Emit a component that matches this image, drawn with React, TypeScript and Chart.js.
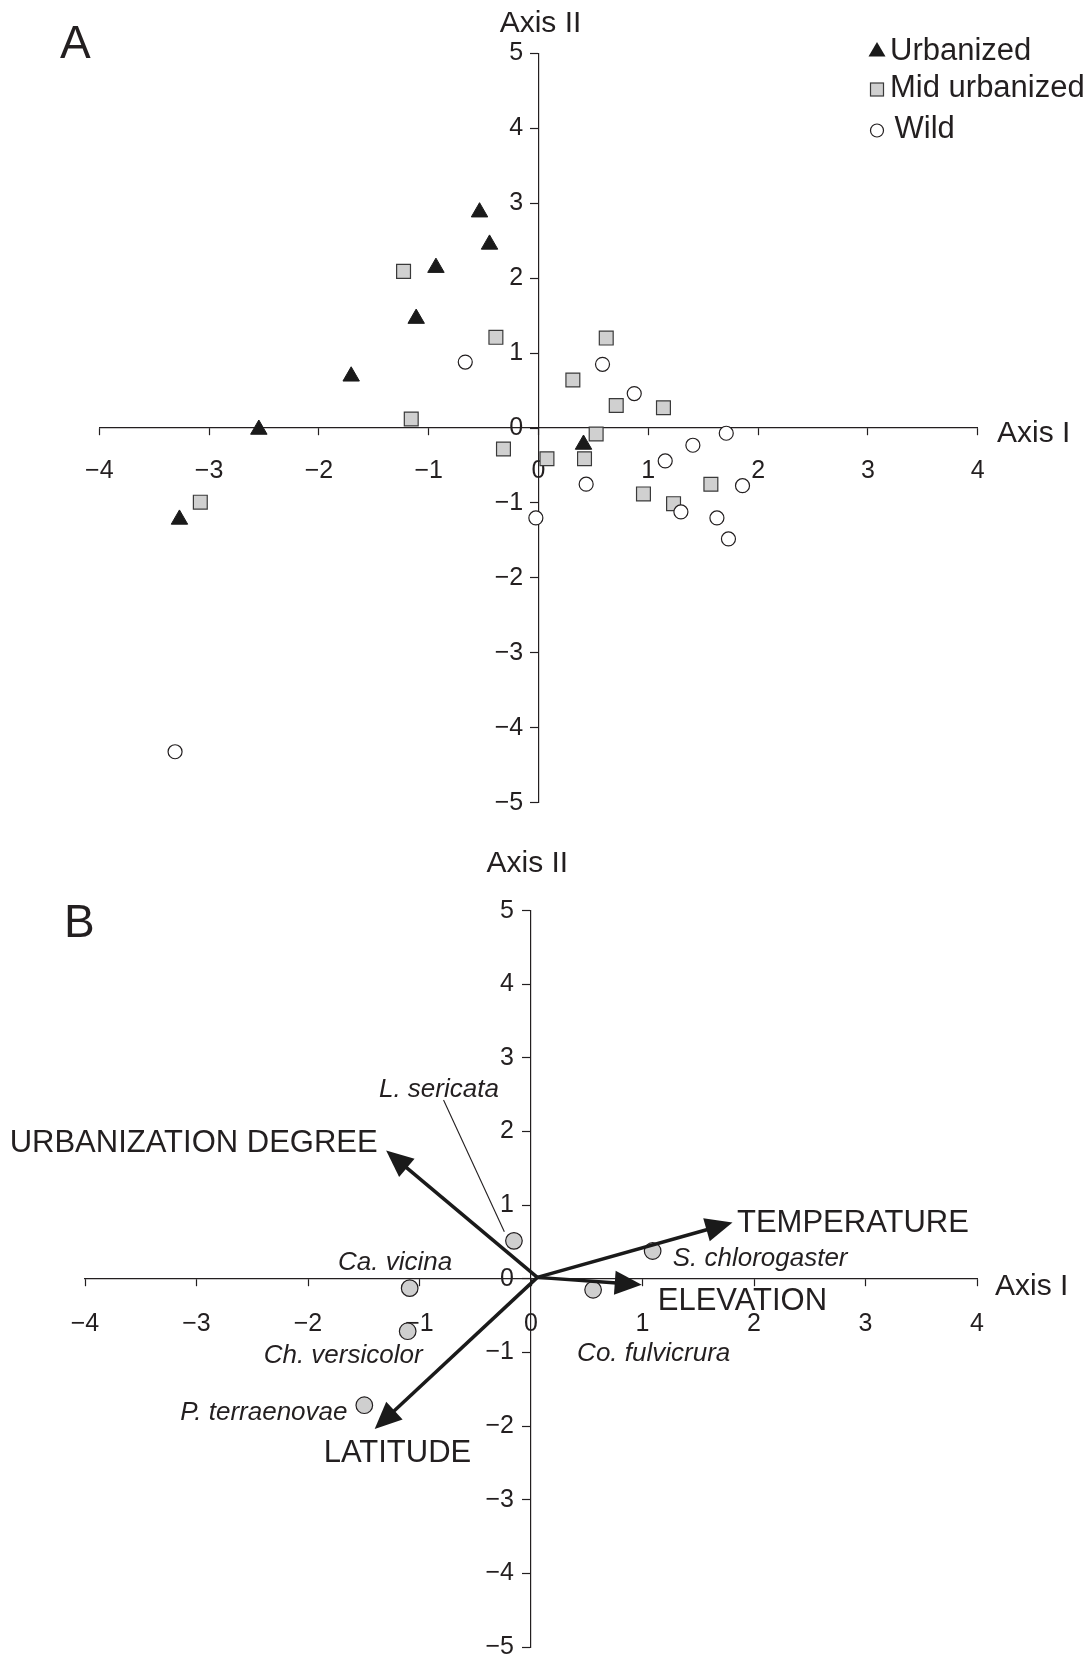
import React, { useEffect, useRef } from 'react';
import { Chart, registerables } from 'chart.js';

Chart.register(...registerables);

const FONT = '"Liberation Sans", Arial, Helvetica, sans-serif';
const INK = '#231f20';

// ---------- Tick labels ----------
const X_TICKS = [-4, -3, -2, -1, 0, 1, 2, 3, 4];
const X_TICK_LABELS = ['\u22124', '\u22123', '\u22122', '\u22121', '0', '1', '2', '3', '4'];
const Y_TICKS = [-5, -4, -3, -2, -1, 0, 1, 2, 3, 4, 5];
const Y_TICK_LABELS = ['\u22125', '\u22124', '\u22123', '\u22122', '\u22121', '0', '1', '2', '3', '4', '5'];

// ---------- Panel A data ----------
const SERIES_NAMES = ['Urbanized', 'Mid urbanized', 'Wild'];
const URBANIZED_X = [-0.537, -0.446, -0.934, -1.114, -1.706, -2.547, -3.27, 0.41];
const URBANIZED_Y = [2.88, 2.45, 2.14, 1.46, 0.69, -0.02, -1.22, -0.22];
const MID_X = [-1.229, -0.388, -1.159, -3.08, -0.319, 0.077, 0.617, 0.313, 0.708, 1.138, 0.525, 0.419, 0.956, 1.23, 1.57];
const MID_Y = [2.09, 1.21, 0.12, -0.99, -0.28, -0.41, 1.2, 0.64, 0.3, 0.27, -0.08, -0.41, -0.88, -1.01, -0.75];
const WILD_X = [-0.667, -0.024, -3.31, 0.583, 0.872, 1.71, 1.406, 1.154, 0.434, 1.858, 1.297, 1.625, 1.73];
const WILD_Y = [0.88, -1.2, -4.32, 0.85, 0.46, -0.07, -0.23, -0.44, -0.75, -0.77, -1.12, -1.2, -1.48];

// ---------- Panel B data ----------
const SPECIES = ['L. sericata', 'Ca. vicina', 'Ch. versicolor', 'P. terraenovae', 'S. chlorogaster', 'Co. fulvicrura'];
const SPECIES_X = [-0.153, -1.088, -1.106, -1.495, 1.091, 0.557];
const SPECIES_Y = [0.516, -0.126, -0.711, -1.716, 0.378, -0.149];
const VECTORS = ['URBANIZATION DEGREE', 'TEMPERATURE', 'ELEVATION', 'LATITUDE'];
const VECTOR_X = [-1.299, 1.807, 0.993, -1.402];
const VECTOR_Y = [1.743, 0.766, -0.08, -2.04];
const VECTOR_ORIGIN_X = 0.057;
const VECTOR_ORIGIN_Y = 0.02;

// ---------- Layout (pixels) ----------
const W = 1091;
const A_HEIGHT = 830;
const B_HEIGHT = 835;
const SPECIES_LABEL_OFFSET = [[-135, -144], [-71.7, -18.3], [-144, 31.7], [-184, 15.3], [20, 15.3], [-16, 71.6]];
const VECTOR_LABEL_OFFSET = [[-8.5, 1.3, 'right'], [4.5, 9.3, 'left'], [16, 25.7, 'left'], [-51, 33.3, 'left']];
const LEADER = { index: 0, from: [-70.4, -140.8], to: [-9.6, -9.2] };

const toPts = (xs: number[], ys: number[]) => xs.map((x, i) => ({ x, y: ys[i] }));

function drawText(ctx: CanvasRenderingContext2D, s: string, x: number, y: number, size: number, align: CanvasTextAlign = 'left', italic = false) {
  ctx.save();
  ctx.font = `${italic ? 'italic ' : ''}${size}px ${FONT}`;
  ctx.fillStyle = INK;
  ctx.textAlign = align;
  ctx.textBaseline = 'alphabetic';
  ctx.fillText(s, x, y);
  ctx.restore();
}

function makeScales(xPad: number) {
  return {
    x: {
      type: 'linear',
      min: -4,
      max: 4,
      position: { y: 0 },
      afterBuildTicks: (axis: any) => { axis.ticks = X_TICKS.map((v) => ({ value: v })); },
      ticks: {
        autoSkip: false,
        maxRotation: 0,
        padding: xPad,
        color: INK,
        font: { family: FONT, size: 25 },
        callback: (v: any) => X_TICK_LABELS[X_TICKS.indexOf(Number(v))],
      },
      grid: { drawOnChartArea: false, drawTicks: true, tickLength: 7, tickColor: INK, tickWidth: 1.2 },
      border: { display: true, color: INK, width: 1.2 },
    },
    y: {
      type: 'linear',
      min: -5,
      max: 5,
      position: { x: 0 },
      afterBuildTicks: (axis: any) => { axis.ticks = Y_TICKS.map((v) => ({ value: v })); },
      ticks: {
        autoSkip: false,
        color: INK,
        font: { family: FONT, size: 25 },
        callback: (v: any) => Y_TICK_LABELS[Y_TICKS.indexOf(Number(v))],
      },
      grid: { drawOnChartArea: false, drawTicks: true, tickLength: 8, tickColor: INK, tickWidth: 1.2 },
      border: { display: true, color: INK, width: 1.2 },
    },
  };
}

// Chart.js puts the labels of an axis positioned at {x: 0} right on the axis line;
// move them left of the tick marks as in the reference.
function yLabelShift(shift: number) {
  return {
    id: 'yLabelShift',
    beforeDraw(chart: any) {
      const scale = chart.scales.y;
      const items = scale.getLabelItems(chart.chartArea);
      if ((items as any).__shifted) return;
      items.forEach((it: any) => { it.options.translation[0] -= shift; });
      (items as any).__shifted = true;
    },
  };
}

const panelAPlugin = {
  id: 'panelA',
  afterDraw(chart: any) {
    const ctx = chart.ctx as CanvasRenderingContext2D;
    const { chartArea, scales } = chart;
    const x0 = scales.x.getPixelForValue(0);
    const y0 = scales.y.getPixelForValue(0);
    drawText(ctx, 'A', 60, 58, 46);
    drawText(ctx, 'Axis II', x0 + 2, chartArea.top - 21.6, 30, 'center');
    drawText(ctx, 'Axis I', chartArea.right + 19.3, y0 + 13.7, 30);
    // legend
    ctx.save();
    ctx.lineWidth = 1.2;
    ctx.strokeStyle = INK;
    ctx.fillStyle = '#1a1a1a';
    ctx.beginPath();
    ctx.moveTo(877, 42);
    ctx.lineTo(885.5, 56.5);
    ctx.lineTo(868.5, 56.5);
    ctx.closePath();
    ctx.fill();
    ctx.fillStyle = '#d0d0d0';
    ctx.strokeStyle = '#3a3a3a';
    ctx.fillRect(870.5, 83, 13, 13);
    ctx.strokeRect(870.5, 83, 13, 13);
    ctx.fillStyle = '#ffffff';
    ctx.strokeStyle = INK;
    ctx.beginPath();
    ctx.arc(877, 130.5, 6.5, 0, Math.PI * 2);
    ctx.fill();
    ctx.stroke();
    ctx.restore();
    drawText(ctx, SERIES_NAMES[0], 890, 60, 31);
    drawText(ctx, SERIES_NAMES[1], 890, 97, 31);
    drawText(ctx, SERIES_NAMES[2], 894.5, 138, 31);
  },
};

function arrow(ctx: CanvasRenderingContext2D, x1: number, y1: number, x2: number, y2: number) {
  const dx = x2 - x1;
  const dy = y2 - y1;
  const len = Math.hypot(dx, dy);
  const ux = dx / len;
  const uy = dy / len;
  const headL = 27;
  const headW = 12;
  const bx = x2 - ux * headL;
  const by = y2 - uy * headL;
  ctx.save();
  ctx.strokeStyle = '#1a1a1a';
  ctx.fillStyle = '#1a1a1a';
  ctx.lineWidth = 3.5;
  ctx.lineCap = 'butt';
  ctx.beginPath();
  ctx.moveTo(x1, y1);
  ctx.lineTo(bx + ux * 2, by + uy * 2);
  ctx.stroke();
  ctx.beginPath();
  ctx.moveTo(x2, y2);
  ctx.lineTo(bx - uy * headW, by + ux * headW);
  ctx.lineTo(bx + uy * headW, by - ux * headW);
  ctx.closePath();
  ctx.fill();
  ctx.restore();
}

const panelBPlugin = {
  id: 'panelB',
  afterDatasetsDraw(chart: any) {
    const ctx = chart.ctx as CanvasRenderingContext2D;
    const { x, y } = chart.scales;
    const ox = x.getPixelForValue(VECTOR_ORIGIN_X);
    const oy = y.getPixelForValue(VECTOR_ORIGIN_Y);
    VECTORS.forEach((_, i) => {
      arrow(ctx, ox, oy, x.getPixelForValue(VECTOR_X[i]), y.getPixelForValue(VECTOR_Y[i]));
    });
    const px = x.getPixelForValue(SPECIES_X[LEADER.index]);
    const py = y.getPixelForValue(SPECIES_Y[LEADER.index]);
    ctx.save();
    ctx.strokeStyle = INK;
    ctx.lineWidth = 1.1;
    ctx.beginPath();
    ctx.moveTo(px + LEADER.from[0], py + LEADER.from[1]);
    ctx.lineTo(px + LEADER.to[0], py + LEADER.to[1]);
    ctx.stroke();
    ctx.restore();
  },
  afterDraw(chart: any) {
    const ctx = chart.ctx as CanvasRenderingContext2D;
    const { chartArea, scales } = chart;
    const { x, y } = scales;
    const x0 = x.getPixelForValue(0);
    const y0 = y.getPixelForValue(0);
    drawText(ctx, 'B', 64, 107, 46);
    drawText(ctx, 'Axis II', x0 - 3.7, chartArea.top - 38.7, 30, 'center');
    drawText(ctx, 'Axis I', chartArea.right + 18, y0 + 16.3, 30);
    SPECIES.forEach((s, i) => {
      const px = x.getPixelForValue(SPECIES_X[i]);
      const py = y.getPixelForValue(SPECIES_Y[i]);
      drawText(ctx, s, px + SPECIES_LABEL_OFFSET[i][0], py + SPECIES_LABEL_OFFSET[i][1], 26, 'left', true);
    });
    VECTORS.forEach((s, i) => {
      const px = x.getPixelForValue(VECTOR_X[i]);
      const py = y.getPixelForValue(VECTOR_Y[i]);
      const o = VECTOR_LABEL_OFFSET[i];
      drawText(ctx, s, px + (o[0] as number), py + (o[1] as number), 31, o[2] as CanvasTextAlign);
    });
  },
};

function configA(): any {
  return {
    type: 'scatter',
    data: {
      datasets: [
        {
          label: SERIES_NAMES[2],
          data: toPts(WILD_X, WILD_Y),
          pointStyle: 'circle',
          pointRadius: 7,
          backgroundColor: '#ffffff',
          borderColor: INK,
          borderWidth: 1.2,
          order: 1,
        },
        {
          label: SERIES_NAMES[1],
          data: toPts(MID_X, MID_Y),
          pointStyle: 'rect',
          pointRadius: 9.8,
          backgroundColor: '#d0d0d0',
          borderColor: '#3a3a3a',
          borderWidth: 1.2,
          order: 2,
        },
        {
          label: SERIES_NAMES[0],
          data: toPts(URBANIZED_X, URBANIZED_Y),
          pointStyle: 'triangle',
          pointRadius: 9.5,
          backgroundColor: '#1a1a1a',
          borderColor: '#1a1a1a',
          borderWidth: 1,
          order: 3,
        },
      ],
    },
    options: {
      responsive: false,
      animation: false,
      devicePixelRatio: 1,
      layout: { padding: { left: 99.3, right: 113.3, top: 53.3, bottom: 27.3 } },
      plugins: { legend: { display: false }, tooltip: { enabled: false } },
      scales: makeScales(21),
    },
    plugins: [yLabelShift(15.3), panelAPlugin],
  };
}

function configB(): any {
  return {
    type: 'scatter',
    data: {
      datasets: [
        {
          label: 'Species',
          data: toPts(SPECIES_X, SPECIES_Y),
          pointStyle: 'circle',
          pointRadius: 8.3,
          backgroundColor: '#cfcfcf',
          borderColor: INK,
          borderWidth: 1.2,
        },
      ],
    },
    options: {
      responsive: false,
      animation: false,
      devicePixelRatio: 1,
      layout: { padding: { left: 85, right: 114, top: 80.7, bottom: 14.3 } },
      plugins: { legend: { display: false }, tooltip: { enabled: false } },
      scales: makeScales(23),
    },
    plugins: [yLabelShift(17), panelBPlugin],
  };
}

function Panel({ make, top, height }: { make: () => any; top: number; height: number }) {
  const ref = useRef<HTMLCanvasElement>(null);
  useEffect(() => {
    const chart = new Chart(ref.current as HTMLCanvasElement, make());
    return () => chart.destroy();
  }, [make]);
  return (
    <canvas
      ref={ref}
      width={W}
      height={height}
      style={{ position: 'absolute', left: 0, top, width: W, height, display: 'block' }}
    />
  );
}

export default function App() {
  return (
    <div style={{ position: 'absolute', left: 0, top: 0, width: W, height: A_HEIGHT + B_HEIGHT, background: '#ffffff' }}>
      <Panel make={configA} top={0} height={A_HEIGHT} />
      <Panel make={configB} top={A_HEIGHT} height={B_HEIGHT} />
    </div>
  );
}
